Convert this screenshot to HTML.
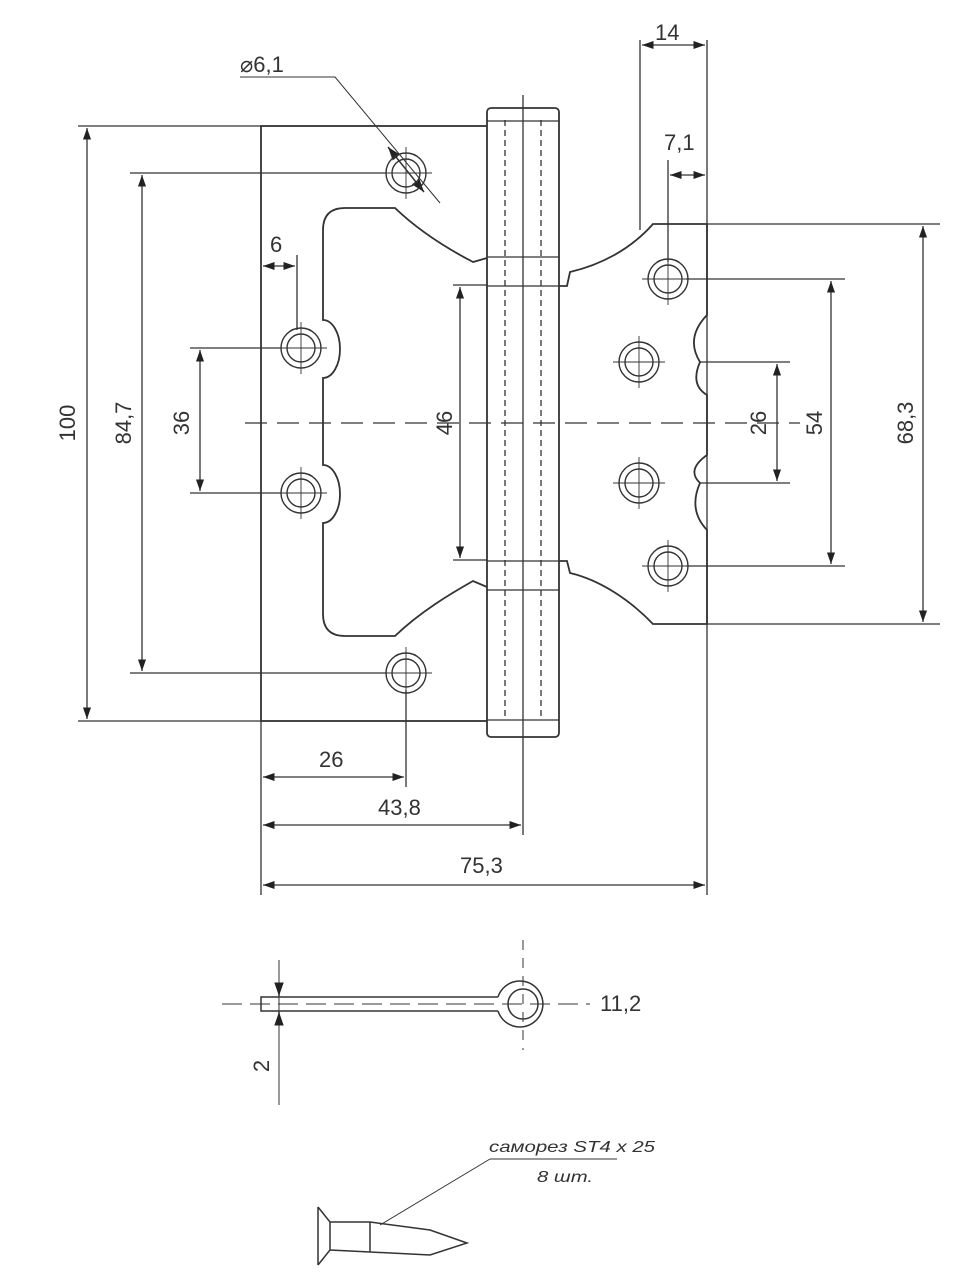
<!DOCTYPE html>
<html><head><meta charset="utf-8"><style>
html,body{margin:0;padding:0;background:#fff;}
svg{display:block;}
text{font-family:"Liberation Sans",sans-serif;fill:#333;font-size:22px;}
</style></head><body>
<svg width="960" height="1280" viewBox="0 0 960 1280" xmlns="http://www.w3.org/2000/svg">
<defs>
<marker id="a" viewBox="0 0 10 10" refX="10" refY="5" markerWidth="9" markerHeight="9" orient="auto-start-reverse"><path d="M0,1.5 L10,5 L0,8.5z" fill="#222"/></marker>
</defs>
<g stroke="#333" fill="none" stroke-width="1.3">
<line x1="78" y1="126" x2="487" y2="126"/>
<line x1="78" y1="721" x2="487" y2="721"/>
<line x1="130" y1="173" x2="386" y2="173"/>
<line x1="130" y1="673" x2="386" y2="673"/>
<line x1="190" y1="348" x2="281" y2="348"/>
<line x1="190" y1="493" x2="281" y2="493"/>
<line x1="453" y1="285" x2="487" y2="285"/>
<line x1="453" y1="560" x2="487" y2="560"/>
<line x1="707" y1="224" x2="940" y2="224"/>
<line x1="707" y1="624" x2="940" y2="624"/>
<line x1="686" y1="279" x2="845" y2="279"/>
<line x1="686" y1="566" x2="845" y2="566"/>
<line x1="700" y1="362" x2="790" y2="362"/>
<line x1="700" y1="483" x2="790" y2="483"/>
<line x1="261" y1="721" x2="261" y2="895"/>
<line x1="406" y1="690" x2="406" y2="787"/>
<line x1="523" y1="95" x2="523" y2="835"/>
<line x1="707" y1="40" x2="707" y2="895"/>
<line x1="640" y1="40" x2="640" y2="230"/>
<line x1="668" y1="160" x2="668" y2="262"/>
<line x1="297" y1="255" x2="297" y2="330"/>
<line x1="87" y1="128" x2="87" y2="719" marker-start="url(#a)" marker-end="url(#a)"/>
<line x1="142" y1="175" x2="142" y2="671" marker-start="url(#a)" marker-end="url(#a)"/>
<line x1="200" y1="350" x2="200" y2="491" marker-start="url(#a)" marker-end="url(#a)"/>
<line x1="460" y1="287" x2="460" y2="558" marker-start="url(#a)" marker-end="url(#a)"/>
<line x1="777" y1="364" x2="777" y2="481" marker-start="url(#a)" marker-end="url(#a)"/>
<line x1="831" y1="281" x2="831" y2="564" marker-start="url(#a)" marker-end="url(#a)"/>
<line x1="923" y1="226" x2="923" y2="622" marker-start="url(#a)" marker-end="url(#a)"/>
<line x1="263" y1="266" x2="295" y2="266" marker-start="url(#a)" marker-end="url(#a)"/>
<line x1="642" y1="45" x2="705" y2="45" marker-start="url(#a)" marker-end="url(#a)"/>
<line x1="670" y1="175" x2="705" y2="175" marker-start="url(#a)" marker-end="url(#a)"/>
<line x1="263" y1="777" x2="404" y2="777" marker-start="url(#a)" marker-end="url(#a)"/>
<line x1="263" y1="825" x2="521" y2="825" marker-start="url(#a)" marker-end="url(#a)"/>
<line x1="263" y1="885" x2="705" y2="885" marker-start="url(#a)" marker-end="url(#a)"/>
<line x1="245" y1="423" x2="800" y2="423" stroke-dasharray="22,10"/>
<polyline points="240,77 335,77 440,203" stroke-width="1"/>
<line x1="388" y1="147" x2="424" y2="192" stroke-width="1.5" marker-start="url(#a)" marker-end="url(#a)"/>
<path d="M487,126 L261,126 L261,721 L487,721" stroke-width="1.8"/>
<path d="M487,258 L473,262 C450,250 420,232 395,208 L345,208 Q323,208 323,230 L323,320 A17,29 0 0 1 323,378 L323,465 A17,29 0 0 1 323,523 L323,614 Q323,636 345,636 L395,636 C420,612 450,594 473,581 L487,587" stroke-width="1.8"/>
<path d="M559,286 L567,286 L570,272 C600,265 630,250 653,224 L707,224 L707,315 Q685,338 700,362 Q690,385 707,395 L707,455 Q686,470 700,483 Q688,510 707,530 L707,624 L653,624 C630,600 600,580 570,573 L567,561 L559,561" stroke-width="1.8"/>
<rect x="487" y="108" width="72" height="629" rx="4" stroke-width="1.8"/>
<line x1="487" y1="257" x2="559" y2="257"/>
<line x1="487" y1="286" x2="559" y2="286"/>
<line x1="487" y1="561" x2="559" y2="561"/>
<line x1="487" y1="590" x2="559" y2="590"/>
<line x1="487" y1="121" x2="559" y2="121"/>
<line x1="487" y1="720" x2="559" y2="720"/>
<line x1="505" y1="120" x2="505" y2="720" stroke-dasharray="6,4"/>
<line x1="541" y1="120" x2="541" y2="720" stroke-dasharray="6,4"/>
</g>
<g stroke="#333" fill="none" stroke-width="1.4">
<circle cx="406" cy="173" r="20"/><circle cx="406" cy="173" r="14"/><path d="M380,173h52M406,147v52" stroke-width="0.9"/>
<circle cx="301" cy="348" r="20"/><circle cx="301" cy="348" r="14"/><path d="M275,348h52M301,322v52" stroke-width="0.9"/>
<circle cx="301" cy="493" r="20"/><circle cx="301" cy="493" r="14"/><path d="M275,493h52M301,467v52" stroke-width="0.9"/>
<circle cx="406" cy="673" r="20"/><circle cx="406" cy="673" r="14"/><path d="M380,673h52M406,647v52" stroke-width="0.9"/>
<circle cx="668" cy="279" r="20"/><circle cx="668" cy="279" r="14"/><path d="M642,279h52M668,253v52" stroke-width="0.9"/>
<circle cx="639" cy="362" r="20"/><circle cx="639" cy="362" r="14"/><path d="M613,362h52M639,336v52" stroke-width="0.9"/>
<circle cx="639" cy="483" r="20"/><circle cx="639" cy="483" r="14"/><path d="M613,483h52M639,457v52" stroke-width="0.9"/>
<circle cx="668" cy="566" r="20"/><circle cx="668" cy="566" r="14"/><path d="M642,566h52M668,540v52" stroke-width="0.9"/>
</g>
<text x="240" y="72">⌀6,1</text>
<text x="655" y="40">14</text>
<text x="664" y="150">7,1</text>
<text x="270" y="252">6</text>
<text x="319" y="767">26</text>
<text x="378" y="815">43,8</text>
<text x="460" y="873">75,3</text>
<text transform="translate(75,423) rotate(-90)" text-anchor="middle">100</text>
<text transform="translate(131,423) rotate(-90)" text-anchor="middle">84,7</text>
<text transform="translate(189,423) rotate(-90)" text-anchor="middle">36</text>
<text transform="translate(452,423) rotate(-90)" text-anchor="middle">46</text>
<text transform="translate(766,423) rotate(-90)" text-anchor="middle">26</text>
<text transform="translate(822,423) rotate(-90)" text-anchor="middle">54</text>
<text transform="translate(913,423) rotate(-90)" text-anchor="middle">68,3</text>
<g stroke="#333" fill="none" stroke-width="1.5">
<path d="M498,997 L261,997 L261,1011 L498,1011"/>
<path d="M498,997 A23,23 0 1 1 498,1011"/>
<circle cx="523" cy="1004" r="15"/>
<line x1="222" y1="1004" x2="590" y2="1004" stroke-dasharray="20,8" stroke-width="1"/>
<line x1="523" y1="940" x2="523" y2="1050" stroke-dasharray="10,8" stroke-width="1"/>
<line x1="279" y1="960" x2="279" y2="1105" stroke-width="1"/>
<line x1="279" y1="985" x2="279" y2="996" marker-end="url(#a)"/>
<line x1="279" y1="1023" x2="279" y2="1012" marker-end="url(#a)"/>
</g>
<text x="600" y="1011">11,2</text>
<text transform="translate(269,1066) rotate(-90)" text-anchor="middle">2</text>
<g stroke="#333" fill="none" stroke-width="1.5">
<polyline points="490,1159 617,1159" stroke-width="1"/>
<polyline points="490,1159 380,1225" stroke-width="1"/>
<path d="M318,1207 L318,1265 M318,1207 L330,1222 L330,1250 L318,1265 M330,1222 L370,1222 L430,1230 L467,1243 L430,1255 L370,1252 L330,1250 M370,1222 L370,1252"/>
</g>
<text x="489" y="1152" textLength="166" lengthAdjust="spacingAndGlyphs" style="font-size:16px;font-style:italic">саморез ST4 x 25</text>
<text x="537" y="1182" textLength="56" lengthAdjust="spacingAndGlyphs" style="font-size:16px;font-style:italic">8 шт.</text>
</svg>
</body></html>
